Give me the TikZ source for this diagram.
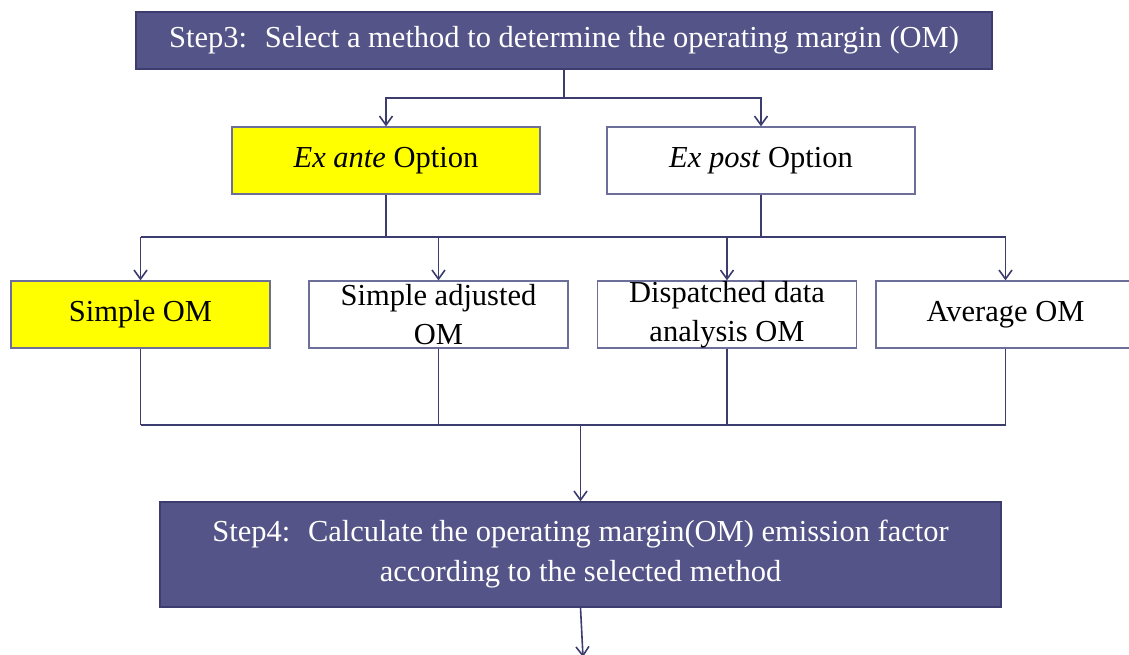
\documentclass[tikz,border=0pt]{standalone}
\usepackage{fontspec}
\setmainfont{Liberation Serif}
\usepackage{xcolor}
\usepackage{tikz}
\usetikzlibrary{arrows.meta}
\definecolor{stepFill}{HTML}{545488}
\definecolor{stepEdge}{HTML}{3C3C6E}
\definecolor{lineBlue}{HTML}{3C3C6E}
\definecolor{optYellow}{HTML}{FFFF00}

\begin{document}
\begin{tikzpicture}[x=1pt, y=-1pt,
    box/.style={rectangle, draw=stepFill!85, line width=1.2pt, minimum width=259pt,
                minimum height=67pt, inner sep=0pt, align=center,
                font=\fontsize{30.5}{39}\selectfont},
    stepbox/.style={rectangle, fill=stepFill, draw=stepEdge, line width=1.2pt,
                    text=white, inner sep=0pt, align=center,
                    font=\fontsize{30.5}{40}\selectfont},
    link/.style={draw=lineBlue, line width=1.6pt},
    arr/.style={link, -{Straight Barb[length=9pt, width=13pt]}}]
  \useasboundingbox (0,0) rectangle (1129,655);
  \node[stepbox, minimum width=856pt, minimum height=57pt] (step3) at (564,40.5)
    {Step3:~ Select a method to determine the operating margin (OM)};
  \node[box, fill=optYellow, minimum width=308pt] (exante) at (386,160.5) {\textit{Ex ante} Option};
  \node[box, minimum width=308pt] (expost) at (761,160.5) {\textit{Ex post} Option};
  \node[box, fill=optYellow] (simple) at (140.5,314.5) {Simple OM};
  \node[box] (adjusted) at (438.5,314.5) {Simple adjusted\\OM};
  \node[box] (dispatched) at (727,314.5) {Dispatched data\\analysis OM};
  \node[box] (average) at (1005.5,314.5) {Average OM};
  \node[stepbox, minimum width=841pt, minimum height=105pt] (step4) at (580.5,554.5)
    {Step4:~ Calculate the operating margin(OM) emission factor\\according to the selected method};
  % step 3 to the two options
  \coordinate (split3) at (564,98);
  \draw[link] (step3.south) -- (split3);
  \draw[arr] (split3) -| (exante.north);
  \draw[arr] (split3) -| (expost.north);
  % options to the four methods
  \coordinate (bus) at (0,237);
  \draw[link] (exante.south) -- (exante.south |- bus);
  \draw[link] (expost.south) -- (expost.south |- bus);
  \draw[link] (simple.north |- bus) -- (average.north |- bus);
  \foreach \n in {simple, adjusted, dispatched, average}
    { \draw[arr] (\n.north |- bus) -- (\n.north); }
  % methods to step 4
  \coordinate (join) at (0,425);
  \foreach \n in {simple, adjusted, dispatched, average}
    { \draw[link] (\n.south) -- (\n.south |- join); }
  \draw[link] (simple.south |- join) -- (average.south |- join);
  \draw[arr] (step4.north |- join) -- (step4.north);
  \coordinate (next) at (583,657);
  \draw[arr] (step4.south) -- (next);
\end{tikzpicture}
\end{document}
